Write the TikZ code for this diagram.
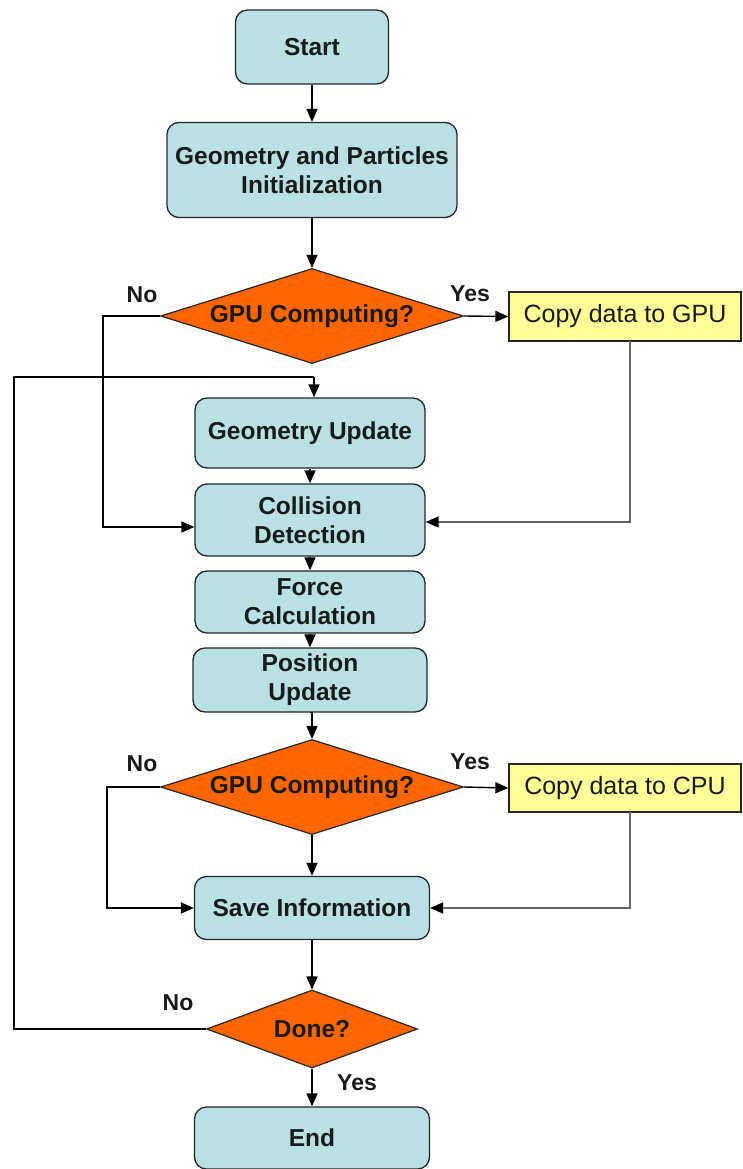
\documentclass[tikz,border=0pt]{standalone}
\usepackage{fontspec}
\setmainfont{Liberation Sans}
\usetikzlibrary{shapes.geometric,arrows.meta}
\definecolor{boxblue}{HTML}{B9E0E3}
\definecolor{dorange}{HTML}{FF6600}
\definecolor{cyellow}{HTML}{FFFF99}
\definecolor{txt}{HTML}{1A1A1A}
\tikzset{
  proc/.style={draw=black!85, line width=1.3pt, fill=boxblue, rounded corners=12pt, align=center,
    inner sep=0pt, font=\fontsize{24.5}{29}\selectfont\bfseries, text=txt},
  decision/.style={draw=black!85, line width=1.2pt, fill=dorange, shape=diamond, inner sep=0pt,
    font=\fontsize{24.5}{29}\selectfont\bfseries, text=txt},
  copybox/.style={draw=black!85, line width=1.3pt, fill=cyellow, inner sep=0pt,
    font=\fontsize{25}{29}\selectfont, text=txt},
  lbl/.style={font=\fontsize{23}{27}\selectfont\bfseries, text=txt},
  conn/.style={line width=1.4pt, draw=black, -{Triangle[length=13pt,width=11pt]}},
  gconn/.style={line width=1.6pt, draw=black!60, -{Triangle[length=13pt,width=11pt,color=black]}},
  plain/.style={line width=1.4pt, draw=black},
}
\begin{document}
\begin{tikzpicture}[x=1pt,y=-1pt]
\useasboundingbox (0,0) rectangle (742,1169);
% nodes
\node[proc, minimum width=153pt, minimum height=74pt] (start) at (312,47) {Start};
\node[proc, minimum width=290pt, minimum height=95pt] (init) at (312,170) {Geometry and Particles\\Initialization};
\node[decision, minimum width=303pt, minimum height=95pt] (d1) at (312,316) {\makebox[0pt]{GPU Computing?}};
\node[copybox, minimum width=232pt, minimum height=49pt] (cgpu) at (625,316.5) {Copy data to GPU};
\node[proc, minimum width=230pt, minimum height=70pt] (geo) at (310,433) {Geometry Update};
\node[proc, minimum width=230pt, minimum height=72pt] (col) at (310,520) {Collision\\Detection};
\node[proc, minimum width=230pt, minimum height=62pt] (force) at (310,602) {Force\\Calculation};
\node[proc, minimum width=234pt, minimum height=64pt] (pos) at (310,680) {Position\\Update};
\node[decision, minimum width=303pt, minimum height=95pt] (d2) at (312,787) {\makebox[0pt]{GPU Computing?}};
\node[copybox, minimum width=232pt, minimum height=48pt] (ccpu) at (625,788) {Copy data to CPU};
\node[proc, minimum width=235pt, minimum height=63pt] (save) at (312,908) {Save Information};
\node[decision, minimum width=211pt, minimum height=78pt] (done) at (312,1029) {\makebox[0pt]{Done?}};
\node[proc, minimum width=235pt, minimum height=62pt] (end) at (312,1138) {End};
% labels
\node[lbl] (y1) at (470,294) {Yes};
\node[lbl] (n1) at (142,295) {No};
\node[lbl] (y2) at (470,762) {Yes};
\node[lbl] (n2) at (142,764) {No};
\node[lbl] (n3) at (178,1003) {No};
\node[lbl] (y3) at (357,1083) {Yes};
% coordinates
\coordinate (c1) at (103,316);
\coordinate (c2) at (630,341);
\coordinate (c3) at (107,787);
\coordinate (c4) at (630,812);
\coordinate (l1) at (14,1029);
\coordinate (l2) at (14,377);
\coordinate (l3) at (314,377);
% connectors
\draw[conn] (start) -- (init);
\draw[conn] (init) -- (d1);
\draw[conn] (d1.east) -- (cgpu.west);
\draw[conn] (d1.west) -- (c1) |- ([yshift=-7pt]col.west);
\draw[gconn] (c2) |- ([yshift=-2pt]col.east);
\draw[plain] (done.west) -- (l1) -- (l2) -- (l3);
\draw[conn] (l3) -- (l3 |- geo.north);
\draw[conn] (geo) -- (col);
\draw[conn] (col) -- (force);
\draw[conn] (force) -- (pos);
\draw[conn] (pos.south) -- (pos.south -| d2.north) -- (d2.north);
\draw[conn] (d2.east) -- (ccpu.west);
\draw[conn] (d2.west) -- (c3) |- (save.west);
\draw[gconn] (c4) |- (save.east);
\draw[conn] (d2) -- (save);
\draw[conn] (save) -- (done);
\draw[conn] (done) -- (end);
\end{tikzpicture}
\end{document}
